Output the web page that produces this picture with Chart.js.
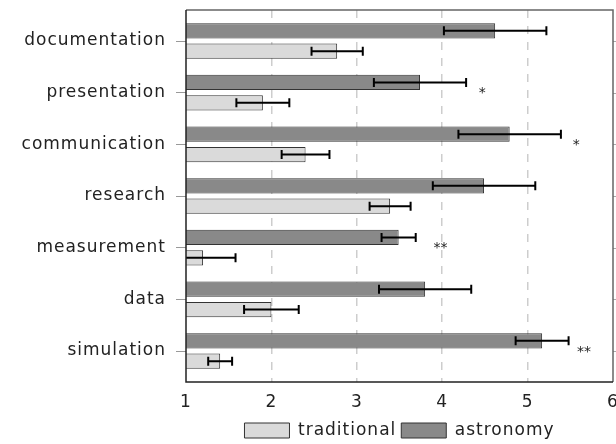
<!DOCTYPE html>
<html>
<head>
<meta charset="utf-8">
<script src="https://cdn.jsdelivr.net/npm/chart.js@4/dist/chart.umd.min.js"></script>
<style>
  html, body { margin: 0; padding: 0; background: #fff; }
  #wrap { width: 616px; height: 444px; }
</style>
</head>
<body>
<div id="wrap"><canvas id="c" width="616" height="444"></canvas></div>
<script>
const categories = ["documentation", "presentation", "communication", "research", "measurement", "data", "simulation"];
const traditionalMean = [2.77, 1.90, 2.40, 3.39, 1.20, 2.00, 1.40];
const traditionalErr  = [0.30, 0.31, 0.28, 0.24, 0.38, 0.32, 0.14];
const astronomyMean   = [4.62, 3.74, 4.79, 4.49, 3.49, 3.80, 5.17];
const astronomyErr    = [0.60, 0.54, 0.60, 0.60, 0.20, 0.54, 0.31];
const sigLabels = ["", "*", "*", "", "**", "", "**"];
const sigX      = [null, 4.47, 5.57, null, 3.98, null, 5.66];
const xTicks = [1, 2, 3, 4, 5, 6];

const FONT = "'DejaVu Sans', sans-serif";
const LS = '1px';

const spacingPlugin = {
  id: 'spacing',
  beforeUpdate(chart) { chart.ctx.letterSpacing = LS; },
  beforeLayout(chart) {
    const lg = chart.legend;
    if (lg && !lg._patched) {
      const orig = lg.fit;
      lg.fit = function () { orig.call(this); this.height = 27; };
      lg._patched = true;
    }
  },
  beforeDraw(chart) { chart.ctx.letterSpacing = LS; }
};

const errorBarPlugin = {
  id: 'errorBars',
  afterDatasetsDraw(chart) {
    const ctx = chart.ctx;
    const xs = chart.scales.x;
    const area = chart.chartArea;
    ctx.save();
    ctx.beginPath();
    ctx.rect(area.left, area.top, area.right - area.left, area.bottom - area.top);
    ctx.clip();
    ctx.strokeStyle = '#000';
    ctx.lineWidth = 2;
    chart.data.datasets.forEach((ds, di) => {
      const meta = chart.getDatasetMeta(di);
      meta.data.forEach((bar, i) => {
        const m = ds.means[i], e = ds.errs[i];
        const x0 = xs.getPixelForValue(m - e);
        const x1 = xs.getPixelForValue(m + e);
        const y = bar.y;
        const h = 4.5;
        ctx.beginPath();
        ctx.moveTo(x0, y); ctx.lineTo(x1, y);
        ctx.moveTo(x0, y - h); ctx.lineTo(x0, y + h);
        ctx.moveTo(x1, y - h); ctx.lineTo(x1, y + h);
        ctx.stroke();
      });
    });
    ctx.restore();

    const ys = chart.scales.y;
    ctx.save();
    ctx.letterSpacing = '0px';
    ctx.fillStyle = '#222';
    ctx.font = "14px " + FONT;
    ctx.textAlign = 'center';
    ctx.textBaseline = 'middle';
    sigLabels.forEach((s, i) => {
      if (!s) return;
      ctx.fillText(s, xs.getPixelForValue(sigX[i]), ys.getPixelForValue(i) + 1);
    });
    ctx.restore();
  }
};

const framePlugin = {
  id: 'frame',
  afterDraw(chart) {
    const ctx = chart.ctx;
    const a = chart.chartArea;
    const ys = chart.scales.y;
    ctx.save();
    ctx.strokeStyle = '#aaa';
    ctx.lineWidth = 1;
    categories.forEach((c, i) => {
      const y = Math.round(ys.getPixelForValue(i)) + 0.5;
      ctx.beginPath(); ctx.moveTo(a.right, y); ctx.lineTo(a.right + 5, y); ctx.stroke();
    });
    ctx.lineWidth = 1.5;
    ctx.strokeStyle = '#666';
    ctx.beginPath();
    ctx.moveTo(a.left, a.top); ctx.lineTo(a.right, a.top); ctx.lineTo(a.right, a.bottom);
    ctx.stroke();
    ctx.strokeStyle = '#222';
    ctx.beginPath();
    ctx.moveTo(a.left, a.top); ctx.lineTo(a.left, a.bottom); ctx.lineTo(a.right, a.bottom);
    ctx.stroke();
    ctx.restore();
  }
};

new Chart(document.getElementById('c'), {
  type: 'bar',
  data: {
    datasets: [
      {
        label: 'astronomy',
        data: astronomyMean.map((v, i) => ({ x: v, y: i })),
        means: astronomyMean, errs: astronomyErr,
        backgroundColor: '#898989', borderColor: '#333', borderWidth: 1, borderSkipped: false,
        categoryPercentage: 0.79, barPercentage: 0.75
      },
      {
        label: 'traditional',
        data: traditionalMean.map((v, i) => ({ x: v, y: i })),
        means: traditionalMean, errs: traditionalErr,
        backgroundColor: '#dadada', borderColor: '#333', borderWidth: 1, borderSkipped: false,
        categoryPercentage: 0.79, barPercentage: 0.75
      }
    ]
  },
  options: {
    indexAxis: 'y',
    responsive: false,
    animation: false,
    devicePixelRatio: 1,
    layout: { padding: { top: 10, right: 3, left: 0, bottom: 0 } },
    scales: {
      x: {
        type: 'linear', min: 1, max: 6,
        afterBuildTicks(s) { s.ticks = xTicks.map(v => ({ value: v })); },
        afterFit(s) { s.height = 35; s.paddingLeft = 0; s.paddingRight = 0; },
        grid: {
          color: (c) => (c.tick && (c.tick.value === 1 || c.tick.value === 6)) ? 'rgba(0,0,0,0)' : '#cdcdcd',
          lineWidth: 1.5, drawTicks: false
        },
        border: { display: false, dash: [8, 8] },
        ticks: { padding: 10, color: '#222', font: { family: FONT, size: 17 } }
      },
      y: {
        type: 'linear', min: -0.6, max: 6.6, reverse: true, offset: false,
        afterBuildTicks(s) { s.ticks = categories.map((c, i) => ({ value: i })); },
        afterFit(s) { s.width = 186; s.paddingTop = 0; s.paddingBottom = 0; },
        grid: { offset: false, drawOnChartArea: false, drawTicks: true, tickLength: 10, tickColor: '#999', tickWidth: 1 },
        border: { display: false },
        ticks: {
          padding: 10, color: '#222', font: { family: FONT, size: 17 },
          callback: (v) => categories[v]
        }
      }
    },
    plugins: {
      legend: {
        position: 'bottom', reverse: true, fullSize: false,
        labels: { boxWidth: 45, boxHeight: 15, padding: 5, color: '#222', font: { family: FONT, size: 17 } }
      },
      tooltip: { enabled: false }
    }
  },
  plugins: [spacingPlugin, errorBarPlugin, framePlugin]
});
</script>
</body>
</html>
